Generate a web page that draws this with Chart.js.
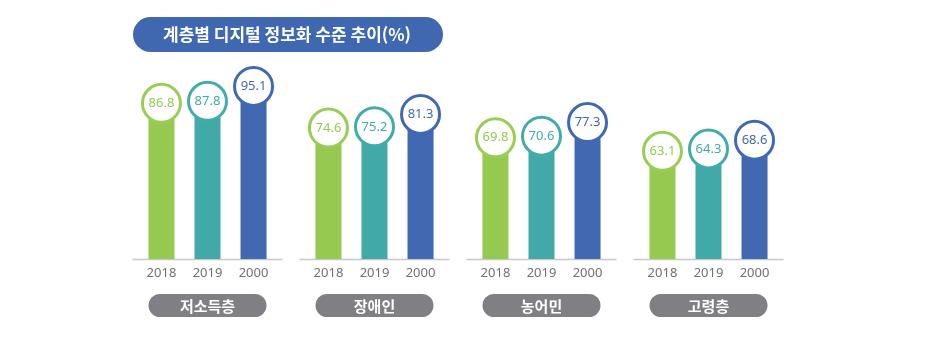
<!DOCTYPE html>
<html lang="ko">
<head>
<meta charset="utf-8">
<script src="https://cdn.jsdelivr.net/npm/chart.js@4"></script>
<style>
  html, body { margin: 0; padding: 0; background: #fff; }
  #wrap { width: 928px; height: 348px; }
</style>
</head>
<body>
<div id="wrap"><canvas id="chart" width="928" height="348"></canvas></div>
<script>
// 데이터
const chartTitle = '계층별 디지털 정보화 수준 추이(%)';
const groups = ['저소득층', '장애인', '농어민', '고령층'];
const years = ['2018', '2019', '2000'];
const values2018 = [86.8, 74.6, 69.8, 63.1];
const values2019 = [87.8, 75.2, 70.6, 64.3];
const values2000 = [95.1, 81.3, 77.3, 68.6];

const barColors = ['#95c94f', '#41aaa8', '#4169b2'];
const ringColors = ['#9acd55', '#43aca9', '#4169b2'];

// 원형 라벨, 연도, 기준선, 그룹 라벨 그리기
const decoPlugin = {
    id: 'deco',
    beforeDatasetsDraw(chart) {
        const ctx = chart.ctx;
        const xs = chart.scales.x;
        const bottom = chart.chartArea.bottom;
        ctx.save();
        ctx.strokeStyle = '#c8c8c8';
        ctx.lineWidth = 1.5;
        groups.forEach((g, i) => {
            const cx = xs.getPixelForValue(i);
            ctx.beginPath();
            ctx.moveTo(cx - 75, bottom + 0.5);
            ctx.lineTo(cx + 75, bottom + 0.5);
            ctx.stroke();
        });
        ctx.restore();
    },
    afterDatasetsDraw(chart) {
        const ctx = chart.ctx;
        const xs = chart.scales.x;
        const bottom = chart.chartArea.bottom;
        ctx.save();

        chart.data.datasets.forEach((ds, d) => {
            const meta = chart.getDatasetMeta(d);
            meta.data.forEach((bar, i) => {
                // 값 원
                ctx.beginPath();
                ctx.arc(bar.x, bar.y, 19, 0, Math.PI * 2);
                ctx.fillStyle = '#fff';
                ctx.fill();
                ctx.lineWidth = 3;
                ctx.strokeStyle = ringColors[d];
                ctx.stroke();
                ctx.fillStyle = barColors[d];
                ctx.font = '13px "Noto Sans"';
                ctx.textAlign = 'center';
                ctx.textBaseline = 'middle';
                ctx.fillText(ds.data[i].toFixed(1), bar.x, bar.y);

                // 연도
                ctx.fillStyle = '#707070';
                ctx.font = '13px "Noto Sans"';
                ctx.fillText(years[d], bar.x, bottom + 14);
            });
        });

        // 그룹 라벨 (회색 알약)
        groups.forEach((g, i) => {
            const cx = xs.getPixelForValue(i);
            const w = 118, h = 23, y = 294;
            ctx.beginPath();
            ctx.roundRect(cx - w / 2, y, w, h, h / 2);
            ctx.fillStyle = '#7f7f84';
            ctx.fill();
            ctx.fillStyle = '#fff';
            ctx.font = 'bold 15px "Noto Sans CJK KR"';
            ctx.textAlign = 'center';
            ctx.textBaseline = 'middle';
            ctx.fillText(g, cx, y + h / 2 + 0.5);
        });

        // 제목
        ctx.beginPath();
        ctx.roundRect(133, 17, 310, 35, 17.5);
        ctx.fillStyle = '#4068b0';
        ctx.fill();
        ctx.fillStyle = '#fff';
        ctx.font = 'bold 17px "Noto Sans CJK KR"';
        ctx.textAlign = 'center';
        ctx.textBaseline = 'middle';
        ctx.fillText(chartTitle, 287, 35);

        ctx.restore();
    }
};

const ctx = document.getElementById('chart').getContext('2d');
new Chart(ctx, {
    type: 'bar',
    data: {
        labels: groups,
        datasets: [
            { label: years[0], data: values2018, backgroundColor: barColors[0] },
            { label: years[1], data: values2019, backgroundColor: barColors[1] },
            { label: years[2], data: values2000, backgroundColor: barColors[2] }
        ]
    },
    options: {
        responsive: false,
        animation: false,
        devicePixelRatio: 1,
        layout: { padding: { left: 124, right: 136, top: 36, bottom: 89 } },
        datasets: {
            bar: { categoryPercentage: 0.827, barPercentage: 0.565 }
        },
        scales: {
            x: { display: false },
            y: { display: false, min: 10, max: 120 }
        },
        plugins: {
            legend: { display: false },
            tooltip: { enabled: false }
        }
    },
    plugins: [decoPlugin]
});
</script>
</body>
</html>
